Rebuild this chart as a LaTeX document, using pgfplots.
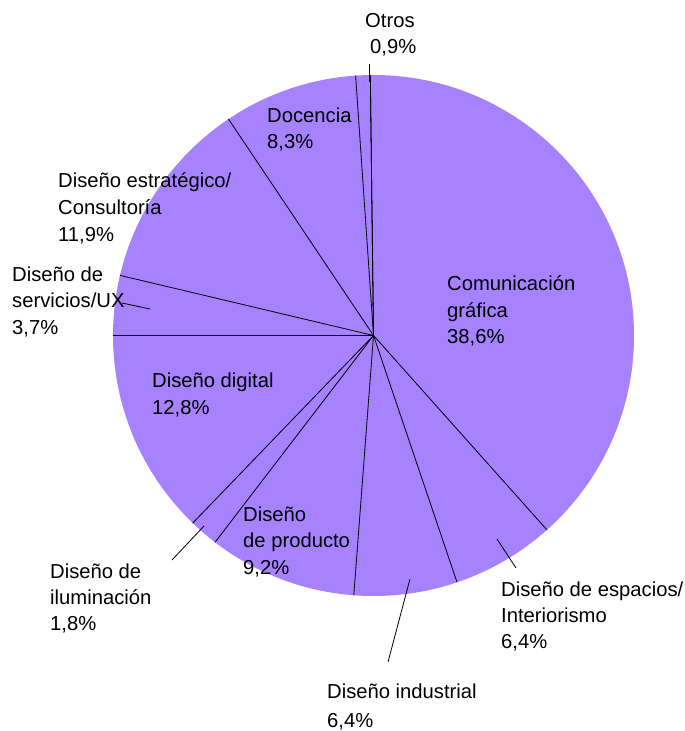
\documentclass[border=0pt]{standalone}
\usepackage{pgfplots}
\usepackage{pgfplotstable}
\pgfplotsset{compat=1.18}
\usepackage{fontspec}
\setmainfont{Liberation Sans}
\definecolor{piecol}{RGB}{167,130,255}

\pgfplotstableread{
label pct
Com 38.6
Esp 6.4
Ind 6.4
Prod 9.2
Ilum 1.8
Dig 12.8
Serv 3.7
Estr 11.9
Doc 8.3
Otros 0.9
}\piedata

% centre and radius in picture units (1 unit = 1bp), y measured upward
\def\cx{373.5}
\def\cy{395.5}
\def\rr{260.5}
\def\startang{90.7}

\newcommand{\lbl}[3]{\node[anchor=base west,inner sep=0pt,font=\fontsize{20.3}{24}\selectfont] at (axis cs:#1,{731-#2}) {#3};}
\newcommand{\ld}[4]{\draw[line width=0.8bp] (axis cs:#1,{731-#2}) -- (axis cs:#3,{731-#4});}

\begin{document}
\begin{tikzpicture}
% cumulative boundary angles
\xdef\cum{0}
\xdef\anglist{\startang}
\pgfplotstableforeachcolumnelement{pct}\of\piedata\as\v{%
  \pgfmathparse{\cum+\v}\xdef\cum{\pgfmathresult}%
  \pgfmathparse{\startang-3.6*\cum}\xdef\anglist{\anglist,\pgfmathresult}%
}
\begin{axis}[
  scale only axis, width=685bp, height=731bp,
  xmin=0, xmax=685, ymin=0, ymax=731,
  hide axis, clip=false,
]
\path (axis cs:0,0) rectangle (axis cs:685,731);
\fill[piecol] (axis cs:\cx,\cy) circle[radius=\rr];
\foreach \a in \anglist {%
  \edef\tmp{\noexpand\draw[line width=0.8bp] (axis cs:\cx,\cy) -- (axis cs:{\cx+\rr*cos(\a)},{\cy+\rr*sin(\a)});}\tmp
}
% leader lines
\ld{369}{64}{369}{82}
\ld{122}{303}{150}{309}
\ld{172}{560}{204}{526}
\ld{497}{539}{516}{568}
\ld{410}{579}{388}{662}
% labels
\lbl{365}{28}{Otros}
\lbl{370}{54}{0,9\%}
\lbl{267}{123}{Docencia}
\lbl{267}{149}{8,3\%}
\lbl{58}{188}{Diseño estratégico/}
\lbl{58}{215}{Consultoría}
\lbl{58}{242}{11,9\%}
\lbl{12}{282}{Diseño de}
\lbl{12}{308}{servicios/UX}
\lbl{12}{335}{3,7\%}
\lbl{152}{388}{Diseño digital}
\lbl{152}{415}{12,8\%}
\lbl{50}{579}{Diseño de}
\lbl{50}{605}{iluminación}
\lbl{50}{631}{1,8\%}
\lbl{243}{522}{Diseño}
\lbl{243}{548}{de producto}
\lbl{243}{575}{9,2\%}
\lbl{327}{699}{Diseño industrial}
\lbl{327}{727}{6,4\%}
\lbl{501}{597}{Diseño de espacios/}
\lbl{501}{623}{Interiorismo}
\lbl{501}{649}{6,4\%}
\lbl{447}{291}{Comunicación}
\lbl{447}{318}{gráfica}
\lbl{447}{344}{38,6\%}
\end{axis}
\end{tikzpicture}
\end{document}
